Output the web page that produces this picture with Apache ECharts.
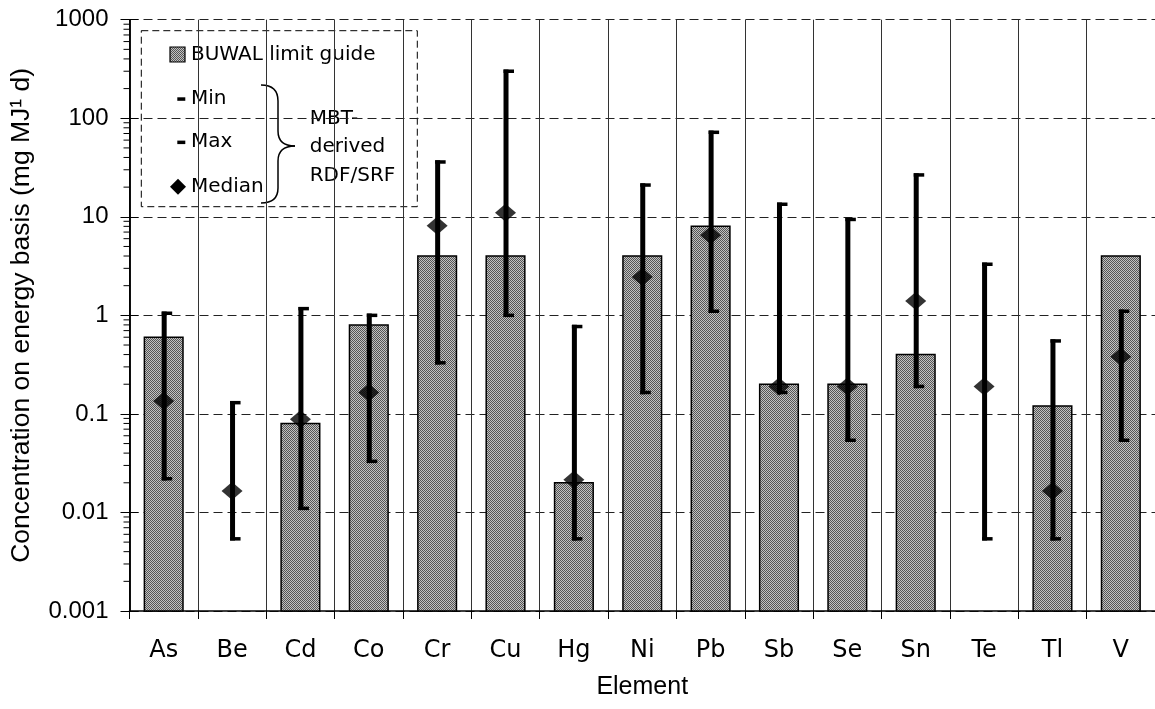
<!DOCTYPE html>
<html>
<head>
<meta charset="utf-8">
<title>Heavy metals in MBT-derived RDF/SRF vs BUWAL limit guide</title>
<script src="https://cdn.jsdelivr.net/npm/echarts@6/dist/echarts.min.js"></script>
<style>
  html, body { margin: 0; padding: 0; background: #fff; }
  #chart { width: 1155px; height: 709px; }
</style>
</head>
<body>
<div id="chart"></div>
<script>
// Elements on the category axis
const elements = ['As', 'Be', 'Cd', 'Co', 'Cr', 'Cu', 'Hg', 'Ni', 'Pb', 'Sb', 'Se', 'Sn', 'Te', 'Tl', 'V'];

// BUWAL limit guide (mg MJ-1, energy basis); null = no guide value
const buwalLimit = [0.6, null, 0.08, 0.8, 4, 4, 0.02, 4, 8, 0.2, 0.2, 0.4, null, 0.12, 4];

// MBT-derived RDF/SRF: minimum, maximum and median concentrations
const rdfMin = [0.022, 0.0054, 0.011, 0.033, 0.33, 1.0, 0.0054, 0.165, 1.1, 0.165, 0.054, 0.19, 0.0054, 0.0054, 0.054];
const rdfMax = [1.05, 0.13, 1.17, 1.0, 36, 300, 0.77, 21, 72, 13.4, 9.4, 26.6, 3.3, 0.55, 1.1];
const rdfMedian = [0.135, 0.0165, 0.088, 0.165, 8.1, 11, 0.0215, 2.45, 6.5, 0.19, 0.19, 1.4, 0.19, 0.0165, 0.38];

// Logarithmic value axis
const yMin = 0.001;
const yMax = 1000;
const yTickLabels = ['0.001', '0.01', '0.1', '1', '10', '100', '1000'];

// Minor ticks at 2..9 within each decade
const minorTicks = [];
for (let e = -3; e < 3; e++) {
  for (let m = 2; m <= 9; m++) minorTicks.push(m * Math.pow(10, e));
}

// Grey checkered fill used for the limit-guide bars
function makeDither() {
  const c = document.createElement('canvas');
  c.width = 2; c.height = 2;
  const g = c.getContext('2d');
  g.fillStyle = '#c2c2c2'; g.fillRect(0, 0, 2, 2);
  g.fillStyle = '#555555'; g.fillRect(0, 0, 1, 1); g.fillRect(1, 1, 1, 1);
  return c;
}
const dither = { image: makeDither(), repeat: 'repeat' };

const tahomaLike = 'DejaVu Sans';
const arialLike = 'Liberation Sans, Arial, sans-serif';

const barData = [];
buwalLimit.forEach((v, i) => { if (v != null) barData.push([i, v]); });
const rangeData = elements.map((_, i) => [i, rdfMin[i], rdfMax[i]]);
const medianData = elements.map((_, i) => [i, rdfMedian[i]]);

const chart = echarts.init(document.getElementById('chart'), null, { renderer: 'canvas' });

const logAxisBase = {
  type: 'log',
  logBase: 10,
  min: yMin,
  max: yMax,
  interval: 1,
  position: 'left'
};

const legendFont = '20px "DejaVu Sans"';
const ink = { stroke: '#000', lineWidth: 1.5, fill: null };

chart.setOption({
  backgroundColor: '#fff',
  animation: false,
  grid: { left: 129.5, right: -7.3, top: 19.7, bottom: 98 },
  xAxis: {
    type: 'category',
    data: elements,
    boundaryGap: true,
    axisLine: { lineStyle: { color: '#000', width: 1.5 } },
    axisTick: { show: true, inside: false, length: 8, alignWithLabel: false, lineStyle: { color: '#000', width: 1 } },
    axisLabel: { color: '#000', fontFamily: tahomaLike, fontSize: 24, margin: 28, interval: 0 },
    splitLine: { show: true, interval: 0, lineStyle: { color: '#333', width: 1 } },
    name: 'Element',
    nameLocation: 'middle',
    nameGap: 64,
    nameTextStyle: { color: '#000', fontFamily: arialLike, fontSize: 25 }
  },
  yAxis: [
    Object.assign({}, logAxisBase, {
      axisLine: { show: true, lineStyle: { color: '#000', width: 1.5 } },
      axisTick: { show: true, inside: false, length: 9, lineStyle: { color: '#000', width: 1 } },
      axisLabel: {
        color: '#000', fontFamily: arialLike, fontSize: 24, margin: 21,
        formatter: v => yTickLabels[Math.round(Math.log10(v)) + 3]
      },
      splitLine: { show: true, lineStyle: { color: '#222', width: 1, type: [9, 5] } },
      name: 'Concentration on energy basis (mg MJ\u00B9 d)',
      nameLocation: 'middle',
      nameGap: 94,
      nameTextStyle: { color: '#000', fontFamily: arialLike, fontSize: 26.5 }
    }),
    Object.assign({}, logAxisBase, {
      axisLine: { show: true, lineStyle: { color: '#000', width: 1.5 } },
      axisTick: { show: true, inside: true, length: 9, lineStyle: { color: '#000', width: 1 } },
      axisLabel: { show: false },
      splitLine: { show: false }
    })
  ],
  series: [
    {
      // minor ticks on the outside of the value axis
      type: 'custom',
      yAxisIndex: 0,
      clip: false,
      silent: true,
      data: minorTicks.map(v => [0, v]),
      renderItem: (params, api) => {
        const y = api.coord([0, api.value(1)])[1];
        const x0 = params.coordSys.x;
        return {
          type: 'line',
          shape: { x1: x0 - 6, y1: y, x2: x0, y2: y },
          style: { stroke: '#000', lineWidth: 1 }
        };
      },
      z: 3
    },
    {
      name: 'BUWAL limit guide',
      type: 'custom',
      yAxisIndex: 0,
      data: barData,
      renderItem: (params, api) => {
        const top = api.coord([api.value(0), api.value(1)]);
        const base = api.coord([api.value(0), yMin]);
        const w = api.size([1, 1])[0] * 0.565;
        return {
          type: 'rect',
          shape: { x: top[0] - w / 2, y: top[1], width: w, height: base[1] - top[1] },
          style: { fill: dither, stroke: '#000', lineWidth: 1.5 }
        };
      },
      z: 4
    },
    {
      name: 'Min / Max',
      type: 'custom',
      yAxisIndex: 0,
      data: rangeData,
      renderItem: (params, api) => {
        const pLo = api.coord([api.value(0), api.value(1)]);
        const pHi = api.coord([api.value(0), api.value(2)]);
        const cx = pHi[0] + 0.5;
        const capW = 3.5;
        return {
          type: 'group',
          children: [
            { type: 'line', shape: { x1: cx, y1: pHi[1] - capW / 2, x2: cx, y2: pLo[1] + capW / 2 },
              style: { stroke: '#000', lineWidth: 5 } },
            { type: 'line', shape: { x1: cx - 2.5, y1: pHi[1], x2: cx + 8, y2: pHi[1] },
              style: { stroke: '#000', lineWidth: capW } },
            { type: 'line', shape: { x1: cx - 2.5, y1: pLo[1], x2: cx + 8, y2: pLo[1] },
              style: { stroke: '#000', lineWidth: capW } }
          ]
        };
      },
      z: 5
    },
    {
      name: 'Median',
      type: 'scatter',
      yAxisIndex: 0,
      data: medianData,
      symbol: 'diamond',
      symbolSize: [21, 18],
      itemStyle: { color: '#000' },
      z: 6
    }
  ],
  graphic: [
    {
      type: 'group',
      z: 100,
      children: [
        { type: 'rect', shape: { x: 141.3, y: 30.7, width: 276, height: 176 },
          style: { fill: '#fff', stroke: '#000', lineWidth: 1, lineDash: [7, 4] } },
        { type: 'rect', shape: { x: 170, y: 47, width: 15, height: 15 },
          style: { fill: dither, stroke: '#000', lineWidth: 1.2 } },
        { type: 'text', x: 191, y: 54.5,
          style: { text: 'BUWAL limit guide', font: legendFont, fill: '#000', verticalAlign: 'middle' } },
        { type: 'rect', shape: { x: 177.3, y: 97.3, width: 8, height: 3.5 }, style: { fill: '#000' } },
        { type: 'text', x: 191, y: 98.5,
          style: { text: 'Min', font: legendFont, fill: '#000', verticalAlign: 'middle' } },
        { type: 'rect', shape: { x: 177.3, y: 140.6, width: 8, height: 3.5 }, style: { fill: '#000' } },
        { type: 'text', x: 191, y: 142,
          style: { text: 'Max', font: legendFont, fill: '#000', verticalAlign: 'middle' } },
        { type: 'polygon', shape: { points: [[178, 178.7], [186, 186.7], [178, 194.7], [170, 186.7]] },
          style: { fill: '#000' } },
        { type: 'text', x: 191, y: 186.5,
          style: { text: 'Median', font: legendFont, fill: '#000', verticalAlign: 'middle' } },
        // curly brace grouping Min / Max / Median
        { type: 'bezierCurve', shape: { x1: 261, y1: 85, cpx1: 278, cpy1: 85, x2: 278, y2: 101 }, style: ink },
        { type: 'line', shape: { x1: 278, y1: 101, x2: 278, y2: 131 }, style: ink },
        { type: 'bezierCurve', shape: { x1: 278, y1: 131, cpx1: 278, cpy1: 146, x2: 295, y2: 146 }, style: ink },
        { type: 'bezierCurve', shape: { x1: 295, y1: 146, cpx1: 278, cpy1: 146, x2: 278, y2: 161 }, style: ink },
        { type: 'line', shape: { x1: 278, y1: 161, x2: 278, y2: 188 }, style: ink },
        { type: 'bezierCurve', shape: { x1: 278, y1: 188, cpx1: 278, cpy1: 203, x2: 261, y2: 203 }, style: ink },
        { type: 'text', x: 309.7, y: 147,
          style: { text: 'MBT-\nderived\nRDF/SRF', font: legendFont, fill: '#000',
                   verticalAlign: 'middle', lineHeight: 28.5 } }
      ]
    }
  ]
});
</script>
</body>
</html>
